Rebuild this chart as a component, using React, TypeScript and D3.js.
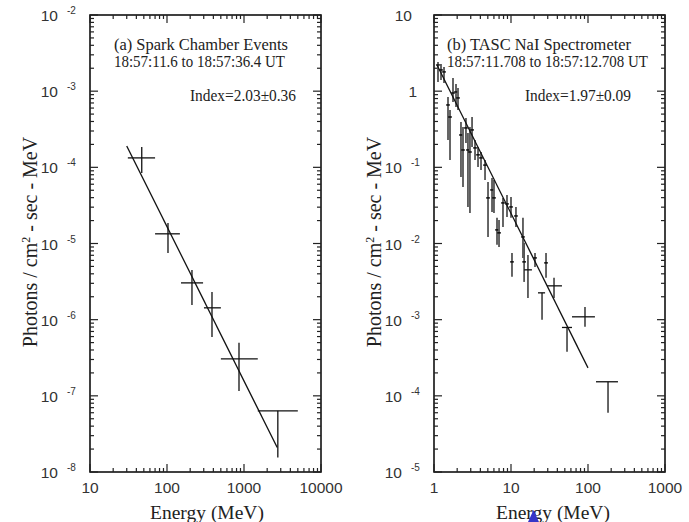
import React from 'react';
import * as d3 from 'd3';

const W = 689;
const H = 522;

// ---------- Panel (a): Spark Chamber ----------
const sparkEnergy = [47, 103, 211, 384, 861, 2750];
const sparkEnergyLo = [31, 70, 152, 302, 501, 1510];
const sparkEnergyHi = [70, 147, 294, 501, 1510, 5000];
const sparkFlux = [1.33e-4, 1.34e-5, 3.04e-6, 1.43e-6, 3.06e-7, 6.35e-8];
const sparkFluxLo = [8.4e-5, 7.5e-6, 1.56e-6, 5.9e-7, 1.16e-7, 1.55e-8];
const sparkFluxHi = [1.85e-4, 1.86e-5, 4.5e-6, 2.3e-6, 4.97e-7, 6.35e-8];
const sparkFitE = [30, 2700];
const sparkFitF = [1.91e-4, 2.1e-8];
const sparkXTicks = ['10', '100', '1000', '10000'];
const sparkYExp = ['-8', '-7', '-6', '-5', '-4', '-3', '-2'];
const sparkText = ['(a) Spark Chamber Events', '18:57:11.6 to 18:57:36.4 UT', 'Index=2.03\u00b10.36'];

// ---------- Panel (b): TASC NaI ----------
const tascEnergy = [1.127, 1.233, 1.349, 1.52, 1.614, 1.765, 1.931, 2.05, 2.24, 2.38, 2.6, 2.76, 2.93, 3.12, 3.41, 3.73, 4.08, 4.6, 5.03, 5.67, 6.01, 6.58, 6.99, 7.87, 8.87, 10.0, 11.6, 10.3, 14.3, 14.8, 16.6, 20.5, 28.5, 25.3, 36.2, 53.4, 91.4, 182];
const tascEnergyLo = [1.06, 1.233, 1.349, 1.52, 1.614, 1.765, 1.931, 2.05, 2.24, 2.38, 2.6, 2.76, 2.93, 3.12, 3.41, 3.73, 4.08, 4.6, 5.03, 5.67, 6.01, 6.58, 6.99, 7.87, 8.87, 10.0, 11.6, 10.3, 14.3, 14.8, 14.8, 20.5, 28.5, 22.4, 29.4, 45.9, 62.0, 127];
const tascEnergyHi = [1.23, 1.233, 1.349, 1.52, 1.614, 1.765, 1.931, 2.05, 2.24, 2.38, 2.6, 2.76, 2.93, 3.12, 3.41, 3.73, 4.08, 4.6, 5.03, 5.67, 6.01, 6.58, 6.99, 7.87, 8.87, 10.0, 11.6, 10.3, 14.3, 14.8, 18.7, 20.5, 28.5, 27.7, 45.9, 62.0, 123, 245];
const tascFlux = [2.21, 1.9, 1.79, 0.659, 0.458, 0.946, 0.977, 0.815, 0.266, 0.169, 0.329, 0.169, 0.159, 0.31, 0.18, 0.146, 0.133, 0.107, 0.0397, 0.0505, 0.0397, 0.0151, 0.0138, 0.0341, 0.0331, 0.0302, 0.023, 0.00574, 0.0122, 0.00574, 0.00451, 0.00647, 0.00557, 0.00225, 0.00278, 0.00079, 0.00109, 0.000153];
const tascFluxLo = [1.32, 1.4, 1.28, 0.229, 0.125, 0.721, 0.621, 0.566, 0.0748, 0.0553, 0.209, 0.0302, 0.0252, 0.185, 0.125, 0.101, 0.0924, 0.0684, 0.0122, 0.026, 0.0252, 0.0096, 0.009, 0.0165, 0.0223, 0.0217, 0.0165, 0.00365, 0.00647, 0.00313, 0.00193, 0.00493, 0.00354, 0.000994, 0.00193, 0.000378, 0.000805, 5.98e-5];
const tascFluxHi = [2.42, 2.27, 2.08, 0.839, 0.566, 1.49, 1.24, 1.1, 0.394, 0.339, 0.445, 0.283, 0.339, 0.458, 0.229, 0.185, 0.159, 0.125, 0.0643, 0.0726, 0.0684, 0.0217, 0.0204, 0.0397, 0.0434, 0.0409, 0.0302, 0.00753, 0.0217, 0.0102, 0.00709, 0.00753, 0.00753, 0.00225, 0.00354, 0.00079, 0.00147, 0.000153];
const tascFitE = [1.094, 100];
const tascFitF = [2.21, 2.33e-4];
const tascXTicks = ['1', '10', '100', '1000'];
const tascYExp = ['-5', '-4', '-3', '-2', '-1', '0', '1'];
const tascText = ['(b) TASC NaI Spectrometer', '18:57:11.708 to 18:57:12.708 UT', 'Index=1.97\u00b10.09'];

const serif = '"Liberation Serif", "DejaVu Serif", serif';
const sans = '"Liberation Sans", Arial, sans-serif';

type PanelProps = {
  left: number;
  right: number;
  top: number;
  bottom: number;
  xDomain: [number, number];
  yDomain: [number, number];
  xTicks: string[];
  yExp: string[];
  e: number[]; eLo: number[]; eHi: number[];
  f: number[]; fLo: number[]; fHi: number[];
  fitE: number[]; fitF: number[];
  texts: string[];
  textLens: number[];
  textX: number;
  indexX: number;
  gray: boolean;
  plainTop: boolean;
  titleX: number;
  xTitleX: number;
  clipId: string;
  clipRight: number;
};

function minorTicks(domain: [number, number]) {
  const out: { v: number; major: boolean }[] = [];
  const lo = Math.round(Math.log10(domain[0]));
  const hi = Math.round(Math.log10(domain[1]));
  for (let p = lo; p <= hi; p++) {
    for (let k = 1; k <= 9; k++) {
      const v = k * Math.pow(10, p);
      if (v > domain[1] * 1.0001) break;
      out.push({ v, major: k === 1 });
    }
  }
  return out;
}

function Panel(p: PanelProps) {
  const x = d3.scaleLog().domain(p.xDomain).range([p.left, p.right]);
  const y = d3.scaleLog().domain(p.yDomain).range([p.bottom, p.top]);
  const xt = minorTicks(p.xDomain);
  const yt = minorTicks(p.yDomain);
  const majLen = 8, minLen = 4;
  const line = d3.line<number>().x((_, i) => x(p.fitE[i])).y((d) => y(d));
  const xMajors = xt.filter((t) => t.major);
  const yMajors = yt.filter((t) => t.major);
  const barColor = p.gray ? '#555' : '#111';
  const barW = p.gray ? 1.8 : 1.3;
  return (
    <g>
      <defs>
        <clipPath id={p.clipId}>
          <rect x={0} y={0} width={p.clipRight} height={H} />
        </clipPath>
      </defs>
      {/* box */}
      <rect x={p.left} y={p.top} width={p.right - p.left} height={p.bottom - p.top} fill="none" stroke="#111" strokeWidth={1.6} />
      {/* x ticks */}
      {xt.map((t, i) => {
        const L = t.major ? majLen : minLen;
        const X = x(t.v);
        return (
          <g key={'xt' + i}>
            <line x1={X} x2={X} y1={p.bottom} y2={p.bottom - L} stroke="#222" strokeWidth={1.2} />
            <line x1={X} x2={X} y1={p.top} y2={p.top + L} stroke="#222" strokeWidth={1.2} />
          </g>
        );
      })}
      {yt.map((t, i) => {
        const L = t.major ? majLen : minLen;
        const Y = y(t.v);
        return (
          <g key={'yt' + i}>
            <line x1={p.left} x2={p.left + L} y1={Y} y2={Y} stroke="#222" strokeWidth={1.2} />
            <line x1={p.right} x2={p.right - L} y1={Y} y2={Y} stroke="#222" strokeWidth={1.2} />
          </g>
        );
      })}
      {/* x tick labels */}
      <g clipPath={`url(#${p.clipId})`}>
        {xMajors.map((t, i) => (
          <text key={'xl' + i} x={x(t.v)} y={p.bottom + 21} textAnchor="middle" fontFamily={sans} fontSize={15.5} fill="#333">
            {p.xTicks[i]}
          </text>
        ))}
      </g>
      {/* y tick labels */}
      {yMajors.map((t, i) => {
        const Y = y(t.v);
        const ex = p.yExp[i];
        if (p.plainTop && ex === '1') {
          return (
            <text key={'yl' + i} x={p.left - 22} y={Y + 6} textAnchor="end" fontFamily={sans} fontSize={15.5} fill="#333">10</text>
          );
        }
        if (p.plainTop && ex === '0') {
          return (
            <text key={'yl' + i} x={p.left - 17} y={Y + 6} textAnchor="end" fontFamily={sans} fontSize={15.5} fill="#333">1</text>
          );
        }
        return (
          <g key={'yl' + i}>
            <text x={p.left - 32} y={Y + 6} textAnchor="end" fontFamily={sans} fontSize={15.5} fill="#333">10</text>
            <text x={p.left - 23} y={Y - 1} textAnchor="start" fontFamily={sans} fontSize={10} fill="#333">{ex}</text>
          </g>
        );
      })}
      {/* error bars */}
      {p.e.map((e, i) => {
        const X = x(e);
        const Yc = y(p.f[i]);
        const hasH = p.eLo[i] !== p.eHi[i];
        return (
          <g key={'pt' + i}>
            <line x1={X} x2={X} y1={y(p.fHi[i])} y2={y(p.fLo[i])} stroke={barColor} strokeWidth={barW} />
            {hasH ? (
              <line x1={x(p.eLo[i])} x2={x(p.eHi[i])} y1={Yc} y2={Yc} stroke="#111" strokeWidth={1.3} />
            ) : (
              p.gray && <line x1={X - 1.8} x2={X + 1.8} y1={Yc} y2={Yc} stroke="#111" strokeWidth={1.6} />
            )}
          </g>
        );
      })}
      {/* fit */}
      <path d={line(p.fitF) || ''} fill="none" stroke="#111" strokeWidth={1.3} />
      {/* annotations */}
      <text x={p.textX} y={p.top + 35} fontFamily={serif} fontSize={16} fill="#222" textLength={p.textLens[0]} lengthAdjust="spacingAndGlyphs">{p.texts[0]}</text>
      <text x={p.textX} y={p.top + 52} fontFamily={serif} fontSize={16} fill="#222" textLength={p.textLens[1]} lengthAdjust="spacingAndGlyphs">{p.texts[1]}</text>
      <text x={p.indexX} y={p.top + 86} fontFamily={serif} fontSize={16} fill="#222" textLength={p.textLens[2]} lengthAdjust="spacingAndGlyphs">{p.texts[2]}</text>
      {/* axis titles */}
      <text x={p.xTitleX} y={519} textAnchor="middle" fontFamily={serif} fontSize={19.5} fill="#222">Energy (MeV)</text>
      <text transform={`translate(${p.titleX},${242}) rotate(-90)`} textAnchor="middle" fontFamily={serif} fontSize={20} fill="#222">
        Photons / cm<tspan dy={-7} fontSize={12}>2</tspan><tspan dy={7}> - sec - MeV</tspan>
      </text>
    </g>
  );
}

export default function App() {
  return (
    <svg width={W} height={H} style={{ position: 'absolute', left: 0, top: 0, background: '#fff' }}>
      <rect x={0} y={0} width={W} height={H} fill="#fff" />
      <Panel
        left={90} right={321} top={15} bottom={472}
        xDomain={[10, 10000]} yDomain={[1e-8, 1e-2]}
        xTicks={sparkXTicks} yExp={sparkYExp}
        e={sparkEnergy} eLo={sparkEnergyLo} eHi={sparkEnergyHi}
        f={sparkFlux} fLo={sparkFluxLo} fHi={sparkFluxHi}
        fitE={sparkFitE} fitF={sparkFitF}
        texts={sparkText} textLens={[174, 171, 106]} textX={114} indexX={190}
        gray={false} plainTop={false} titleX={37} xTitleX={207}
        clipId="clipA" clipRight={343}
      />
      <Panel
        left={434} right={665} top={15} bottom={472}
        xDomain={[1, 1000]} yDomain={[1e-5, 10]}
        xTicks={tascXTicks} yExp={tascYExp}
        e={tascEnergy} eLo={tascEnergyLo} eHi={tascEnergyHi}
        f={tascFlux} fLo={tascFluxLo} fHi={tascFluxHi}
        fitE={tascFitE} fitF={tascFitF}
        texts={tascText} textLens={[184, 201, 106]} textX={447} indexX={525}
        gray={true} plainTop={true} titleX={381} xTitleX={553}
        clipId="clipB" clipRight={W}
      />
      <polygon points="533.5,510 539,522 528,522" fill="#3535c8" />
    </svg>
  );
}
